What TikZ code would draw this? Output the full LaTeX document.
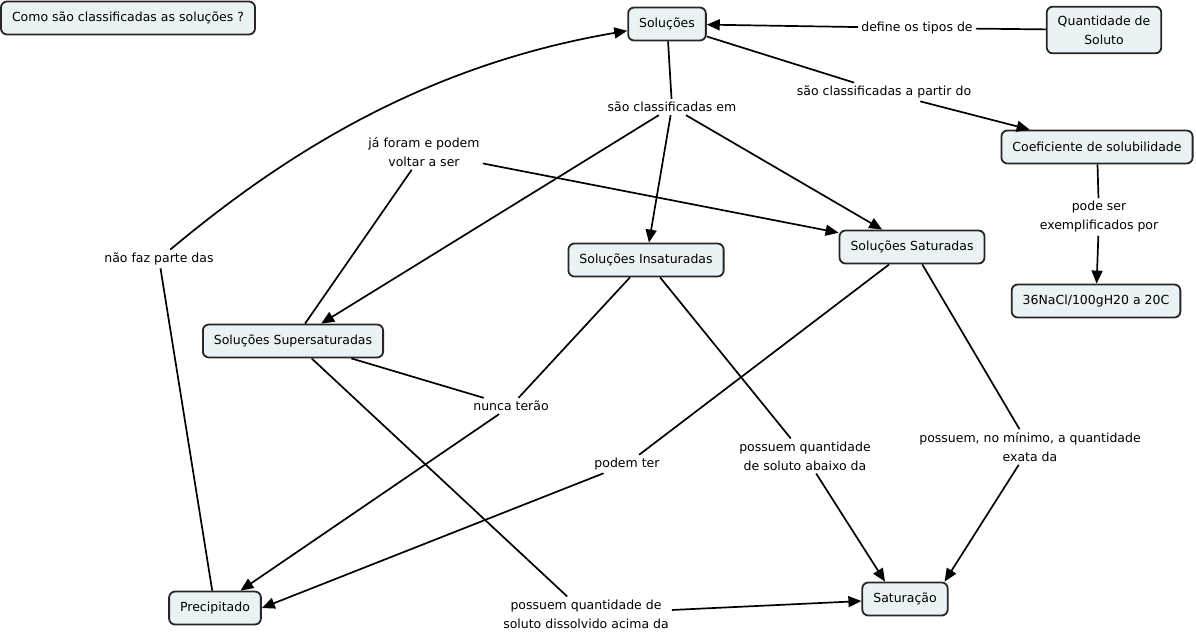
\documentclass[tikz,border=0pt]{standalone}
\usepackage{fontspec}
\setmainfont{DejaVu Sans}
\usetikzlibrary{arrows.meta}
\definecolor{cmapfill}{RGB}{234,242,246}
\begin{document}
\begin{tikzpicture}[x=1pt,y=-1pt,font=\fontsize{12.5}{19}\selectfont,
    concept/.style={draw=black!85,line width=1.8pt,fill=cmapfill,rounded corners=6pt,
        minimum height=33pt,inner xsep=11pt,inner ysep=4pt,align=center},
    phrase/.style={inner sep=3pt,align=center},
    link/.style={line width=1.7pt},
    tip/.style={link,-{Triangle[length=13pt,width=11pt]}}]
    \useasboundingbox (0,0) rectangle (1196,635);

    \node[concept] (quest) at (128,18) {Como são classificadas as soluções ?};
    \node[concept] (sol) at (667,24) {Soluções};
    \node[concept,inner ysep=9pt] (quant) at (1104,30) {Quantidade de\\Soluto};
    \node[concept] (coef) at (1097,147) {Coeficiente de solubilidade};
    \node[concept] (nacl) at (1096,301) {36NaCl/100gH20 a 20C};
    \node[concept] (sat) at (912,247) {Soluções Saturadas};
    \node[concept] (insat) at (646,260) {Soluções Insaturadas};
    \node[concept] (super) at (293,341) {Soluções Supersaturadas};
    \node[concept] (precip) at (215,608) {Precipitado};
    \node[concept] (satur) at (905,599) {Saturação};

    \node[phrase] (define) at (917,28) {define os tipos de};
    \node[phrase] (partir) at (884,92) {são classificadas a partir do};
    \node[phrase] (classem) at (672,107) {são classificadas em};
    \node[phrase] (jaforam) at (424,152) {já foram e podem\\voltar a ser};
    \node[phrase] (naofaz) at (159,259) {não faz parte das};
    \node[phrase] (podeser) at (1099,217) {pode ser\\exemplificados por};
    \node[phrase] (nunca) at (511,406) {nunca terão};
    \node[phrase] (podem) at (627,464) {podem ter};
    \node[phrase] (abaixo) at (805,456) {possuem quantidade\\de soluto abaixo da};
    \node[phrase] (minimo) at (1030,447) {possuem, no mínimo, a quantidade\\exata da};
    \node[phrase] (acima) at (586,614) {possuem quantidade de\\soluto dissolvido acima da};

    \draw[link] (quant) -- (define);
    \draw[tip] (define) -- (sol);
    \draw[link] (sol) -- (partir);
    \draw[tip] (partir) -- (coef);
    \draw[link] (coef) -- (podeser);
    \draw[tip] (podeser) -- (nacl);
    \draw[link] (sol) -- (classem);
    \foreach \t in {super,insat,sat}
        \draw[tip] (classem) -- (\t);
    \draw[link] (super) -- (jaforam);
    \draw[tip] (jaforam) -- (sat);
    \draw[link] (precip) -- (naofaz);
    \draw[tip] (naofaz) .. controls (280,158) and (420,66) .. (sol);
    \draw[link] (super) -- (nunca);
    \draw[link] (insat) -- (nunca);
    \draw[tip] (nunca) -- (precip);
    \draw[link] (sat) -- (podem);
    \draw[tip] (podem) -- (precip.east);
    \draw[link] (insat) -- (abaixo);
    \draw[tip] (abaixo) -- ([xshift=-20pt]satur.north);
    \draw[link] (sat) -- (minimo);
    \draw[tip] (minimo) -- ([xshift=-4pt]satur.north east);
    \draw[link] (super) -- (acima);
    \draw[tip] (acima) -- (satur);
\end{tikzpicture}
\end{document}
